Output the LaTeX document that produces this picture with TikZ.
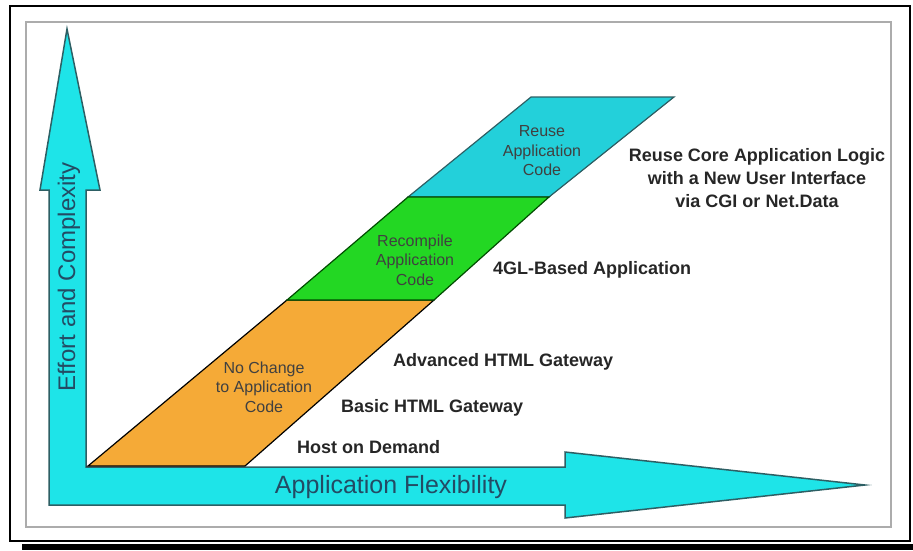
\documentclass[tikz,border=0pt]{standalone}
\usepackage{fontspec}
\setmainfont{Liberation Sans}
\definecolor{axcyan}{RGB}{30,228,232}
\definecolor{axline}{RGB}{45,95,100}
\definecolor{axtext}{RGB}{35,75,100}
\definecolor{bandorange}{RGB}{245,170,55}
\definecolor{bandgreen}{RGB}{35,215,35}
\definecolor{bandcyan}{RGB}{35,208,218}
\begin{document}
\begin{tikzpicture}[x=1pt,y=-1pt,
  band/.style={line width=1.2pt},
  inlbl/.style={align=center,inner sep=0pt,font=\fontsize{16}{19.5}\selectfont,text=black!75},
  sidelbl/.style={anchor=west,inner sep=0pt,font=\fontsize{18}{23}\selectfont\bfseries,text=black!85},
  axlbl/.style={inner sep=0pt,text=axtext}]
\useasboundingbox (0,0) rectangle (913,550);
% frames
\draw[line width=2.5pt] (10,6) rectangle (910,541);
\fill (22,544) rectangle (913,550);
\draw[gray!65,line width=2pt] (26,22) rectangle (891,527);
% the two axis arrows
\filldraw[fill=axcyan,draw=axline,line width=1.5pt,line join=miter]
  (49,505) -- (49,190) -- (40,190) -- (67,29) -- (100,190) -- (86,190)
  -- (86,467) -- (565,467) -- (565,452) -- (865,485) -- (565,518)
  -- (565,505) -- cycle;
\node[axlbl,rotate=90,font=\fontsize{24}{28}\selectfont] (effort) at (69,277) {Effort and Complexity};
\node[axlbl,font=\fontsize{25}{28}\selectfont] (flex) at (391,487) {Application Flexibility};
% the bands
\filldraw[band,fill=bandorange,draw=black] (88,466) -- (245,466) -- (434,300) -- (287,300) -- cycle;
\filldraw[band,fill=bandcyan,draw=axline] (408,197) -- (549,197) -- (674,97) -- (531,97) -- cycle;
\filldraw[band,fill=bandgreen,draw=green!30!black] (287,300) -- (434,300) -- (549,197) -- (408,197) -- cycle;
\node[inlbl] (reuse) at (542,151) {Reuse\\Application\\Code};
\node[inlbl] (recomp) at (415,260) {Recompile\\Application\\Code};
\node[inlbl] (nochange) at (264,387) {No Change\\to Application\\Code};
% labels on the right
\node[sidelbl] (host) at (297,447) {Host on Demand};
\node[sidelbl] (basic) at (341,408) {Basic HTML Gateway};
\node[sidelbl] (adv) at (393,362) {Advanced HTML Gateway};
\node[sidelbl] (fourgl) at (493,270) {4GL-Based Application};
\node[sidelbl,anchor=center,align=center] (core) at (757,178) {Reuse Core Application Logic\\with a New User Interface\\via CGI or Net.Data};
\end{tikzpicture}
\end{document}
